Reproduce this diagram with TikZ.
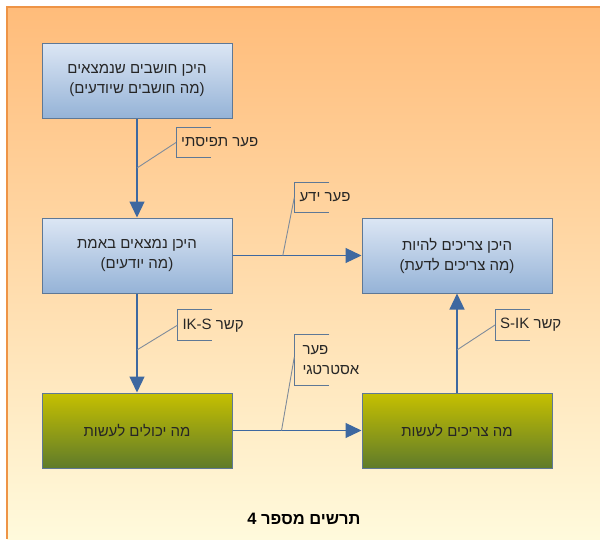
\documentclass[tikz,border=0pt]{standalone}
\usepackage{fontspec}
\setmainfont{Liberation Sans}
\newfontfamily\hebfont[Script=Hebrew]{Liberation Sans}
\usetikzlibrary{arrows.meta, positioning, calc}
\TeXXeTstate=1
\definecolor{bgtop}{RGB}{255,188,122}
\definecolor{bgbot}{RGB}{255,250,220}
\definecolor{framecol}{RGB}{238,148,70}
\definecolor{bluetop}{RGB}{220,230,244}
\definecolor{bluebot}{RGB}{149,179,215}
\definecolor{greentop}{RGB}{198,192,0}
\definecolor{greenbot}{RGB}{95,123,42}
\definecolor{boxline}{RGB}{94,120,150}
\definecolor{flowcol}{RGB}{62,104,160}
\definecolor{leadcol}{RGB}{128,140,155}
\definecolor{txt}{RGB}{38,38,38}

\tikzset{
  bluebox/.style={draw=boxline, line width=1pt, top color=bluetop, bottom color=bluebot,
    minimum width=190pt, minimum height=75pt, align=center, text=txt,
    font=\hebfont\fontsize{15}{20}\selectfont},
  greenbox/.style={bluebox, top color=greentop, bottom color=greenbot},
  flow/.style={draw=flowcol, line width=1.2pt, -{Triangle[width=15pt,length=16pt]}},
  gaplabel/.style={anchor=west, inner xsep=5pt, inner ysep=0pt, minimum height=30.5pt,
    align=left, text=txt, font=\hebfont\fontsize{15}{20}\selectfont},
  bracket/.style={draw=boxline, line width=1pt},
  leader/.style={draw=leadcol, line width=0.9pt},
}

\begin{document}
\begin{tikzpicture}[x=1pt, y=-1pt]
    \useasboundingbox (0,0) rectangle (600,539);
    \clip (0,0) rectangle (600,539);
    % background frame
    \fill[white] (0,0) rectangle (600,539);
    \shade[top color=bgtop, bottom color=bgbot] (7,7) rectangle (600,539);
    \draw[framecol, line width=2pt] (7,539) -- (7,7) -- (600,7);

    % boxes
    \node[bluebox] (think) at (137,80.5) {\beginR היכן חושבים שנמצאים\endR\\\beginR (מה חושבים שיודעים)\endR};
    \node[bluebox] (actual) at (137,255.5) {\beginR היכן נמצאים באמת\endR\\\beginR (מה יודעים)\endR};
    \node[bluebox] (should) at (457,255.5) {\beginR היכן צריכים להיות\endR\\\beginR (מה צריכים לדעת)\endR};
    \node[greenbox] (can) at (137,430.5) {\beginR מה יכולים לעשות\endR};
    \node[greenbox] (mustdo) at (457,430.5) {\beginR מה צריכים לעשות\endR};

    % connectors
    \draw[flow] (think) -- (actual);
    \draw[flow] (actual) -- (should);
    \draw[flow] (actual) -- (can);
    \draw[flow] (can) -- (mustdo);
    \draw[flow] (mustdo) -- (should);

    % gap labels
    \node[gaplabel] (gapview) at (176,142.5) {\beginR פער תפיסתי\endR};
    \node[gaplabel] (gapknow) at (294.3,197.5) {\beginR פער ידע\endR};
    \node[gaplabel] (linkis) at (177.3,325.3) {\beginR קשר \beginL IK-S\endL\endR};
    \node[gaplabel, minimum height=50pt, inner xsep=8pt] (gapstrat) at (294.3,360) {\beginR פער\endR\\\beginR אסטרטגי\endR};
    \node[gaplabel] (linksi) at (495,325) {\beginR קשר \beginL S-IK\endL\endR};

    \foreach \g in {gapview, gapknow, linkis, gapstrat, linksi}
        \draw[bracket] ([xshift=35pt]\g.north west) -- (\g.north west) -- (\g.south west) -- ([xshift=35pt]\g.south west);

    \draw[leader] (gapview.west) -- ($(think.south)!0.5!(actual.north)$);
    \draw[leader] (gapknow.west) -- ($(actual.east)!0.39!(should.west)$);
    \draw[leader] (linkis.west) -- ($(actual.south)!0.57!(can.north)$);
    \draw[leader] ([yshift=3pt]gapstrat.west) -- ($(can.east)!0.38!(mustdo.west)$);
    \draw[leader] (linksi.west) -- ($(mustdo.north)!0.43!(should.south)$);

    % caption
    \node[font=\hebfont\bfseries\fontsize{16.5}{18}\selectfont, text=black] (caption) at (304,519) {\beginR תרשים מספר 4\endR};
\end{tikzpicture}
\end{document}
